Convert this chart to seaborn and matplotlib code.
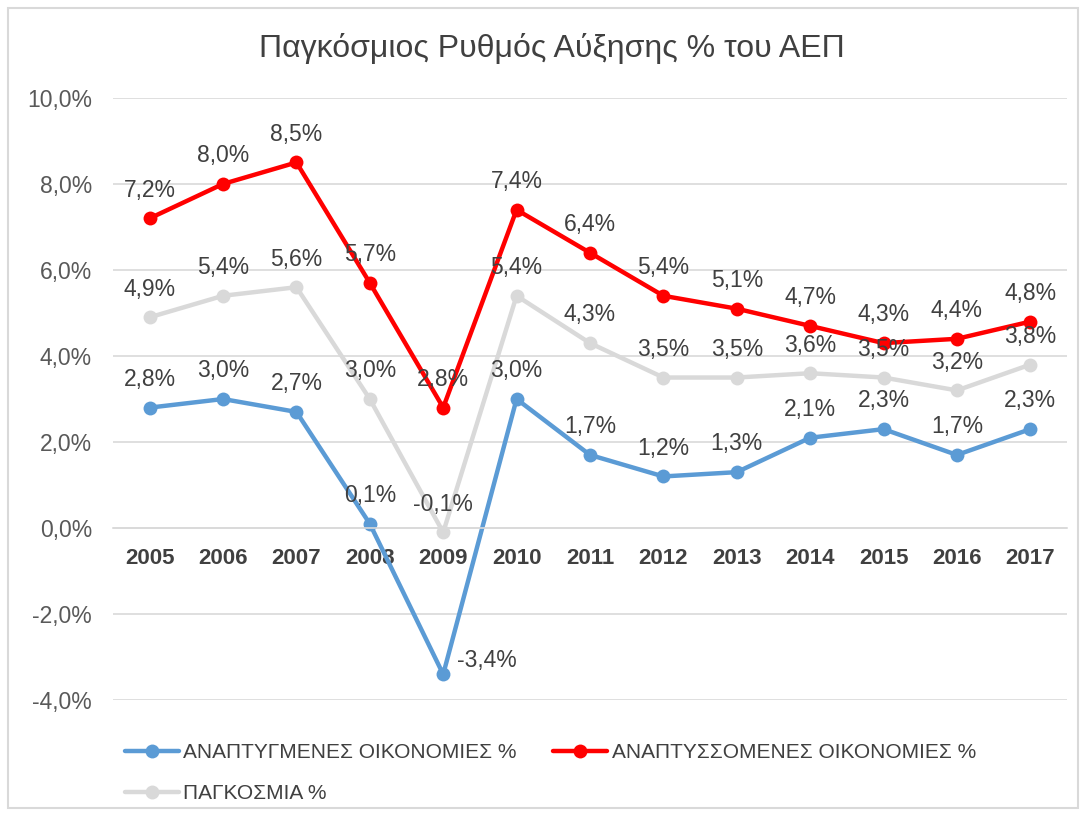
import matplotlib
matplotlib.use("Agg")
import matplotlib.pyplot as plt
from matplotlib.patches import Rectangle
from matplotlib.ticker import FuncFormatter
import pandas as pd
import seaborn as sns

years = ['2005', '2006', '2007', '2008', '2009', '2010', '2011',
         '2012', '2013', '2014', '2015', '2016', '2017']
developed = [2.8, 3.0, 2.7, 0.1, -3.4, 3.0, 1.7, 1.2, 1.3, 2.1, 2.3, 1.7, 2.3]
developing = [7.2, 8.0, 8.5, 5.7, 2.8, 7.4, 6.4, 5.4, 5.1, 4.7, 4.3, 4.4, 4.8]
world = [4.9, 5.4, 5.6, 3.0, -0.1, 5.4, 4.3, 3.5, 3.5, 3.6, 3.5, 3.2, 3.8]

names = ['ΑΝΑΠΤΥΓΜΕΝΕΣ ΟΙΚΟΝΟΜΙΕΣ %', 'ΑΝΑΠΤΥΣΣΟΜΕΝΕΣ ΟΙΚΟΝΟΜΙΕΣ %', 'ΠΑΓΚΟΣΜΙΑ %']
colors = ['#5B9BD5', '#FF0000', '#D9D9D9']
series = [developed, developing, world]

sns.set_style('white')
plt.rcParams['font.family'] = ['Liberation Sans', 'DejaVu Sans']

fig = plt.figure(figsize=(10.86, 8.16), dpi=100)
ax = fig.add_axes([0.104, 0.142, 0.8785, 0.738])

x_idx = list(range(len(years)))
for name, vals, col in zip(names, series, colors):
    df = pd.DataFrame({'x': x_idx, 'v': vals})
    sns.lineplot(data=df, x='x', y='v', ax=ax, color=col, linewidth=3.2,
                 marker='o', markersize=10, markeredgewidth=0, label=name)

def fmt(v):
    return f"{v:.1f}%".replace('.', ',')

for vals in series:
    for i, v in enumerate(vals):
        if v == -3.4:
            ax.annotate(fmt(v), (i, v), xytext=(10, 10), textcoords='offset points',
                        ha='left', va='center', fontsize=16.5, color='#404040', zorder=10)
        else:
            ax.annotate(fmt(v), (i, v), xytext=(0, 12), textcoords='offset points',
                        ha='center', va='bottom', fontsize=16.5, color='#404040', zorder=10)

# axis line at zero, year labels sit right under it
for s in ['top', 'right', 'left']:
    ax.spines[s].set_visible(False)
ax.spines['bottom'].set_position(('data', 0))
ax.spines['bottom'].set_color('#D9D9D9')
ax.spines['bottom'].set_linewidth(1.2)

ax.set_xlim(-0.5, len(years) - 0.5)
ax.set_ylim(-4, 10)
ax.set_yticks(range(-4, 11, 2))
ax.yaxis.set_major_formatter(FuncFormatter(lambda v, p: fmt(v)))
ax.set_xticks(x_idx)
ax.set_xticklabels(years, fontweight='bold')
ax.tick_params(axis='x', length=0, pad=14, labelsize=16, labelcolor='#404040')
ax.tick_params(axis='y', length=0, pad=15, labelsize=16.5, labelcolor='#595959')
ax.grid(axis='y', color='#D9D9D9', linewidth=1.2)
ax.set_axisbelow(True)
ax.set_xlabel('')
ax.set_ylabel('')

fig.text(0.508, 1 - 48 / 816, 'Παγκόσμιος Ρυθμός Αύξησης % του ΑΕΠ',
         fontsize=23, color='#404040', ha='center', va='center')

handles, labels = ax.get_legend_handles_labels()
ax.get_legend().remove()
order = [0, 2, 1]
fig.legend([handles[k] for k in order], [labels[k] for k in order],
           loc='upper left', bbox_to_anchor=(0.1055, 0.1017), ncol=2,
           frameon=False, borderpad=0, handlelength=2.6, handletextpad=0.2,
           columnspacing=1.75, labelspacing=1.04, labelcolor='#404040',
           prop={'size': 15})

fig.patches.append(Rectangle((8 / 1086, 8 / 816), 1070 / 1086, 800 / 816,
                             transform=fig.transFigure, fill=False,
                             edgecolor='#D9D9D9', linewidth=1.5))

fig.savefig('out.png', dpi=100)
